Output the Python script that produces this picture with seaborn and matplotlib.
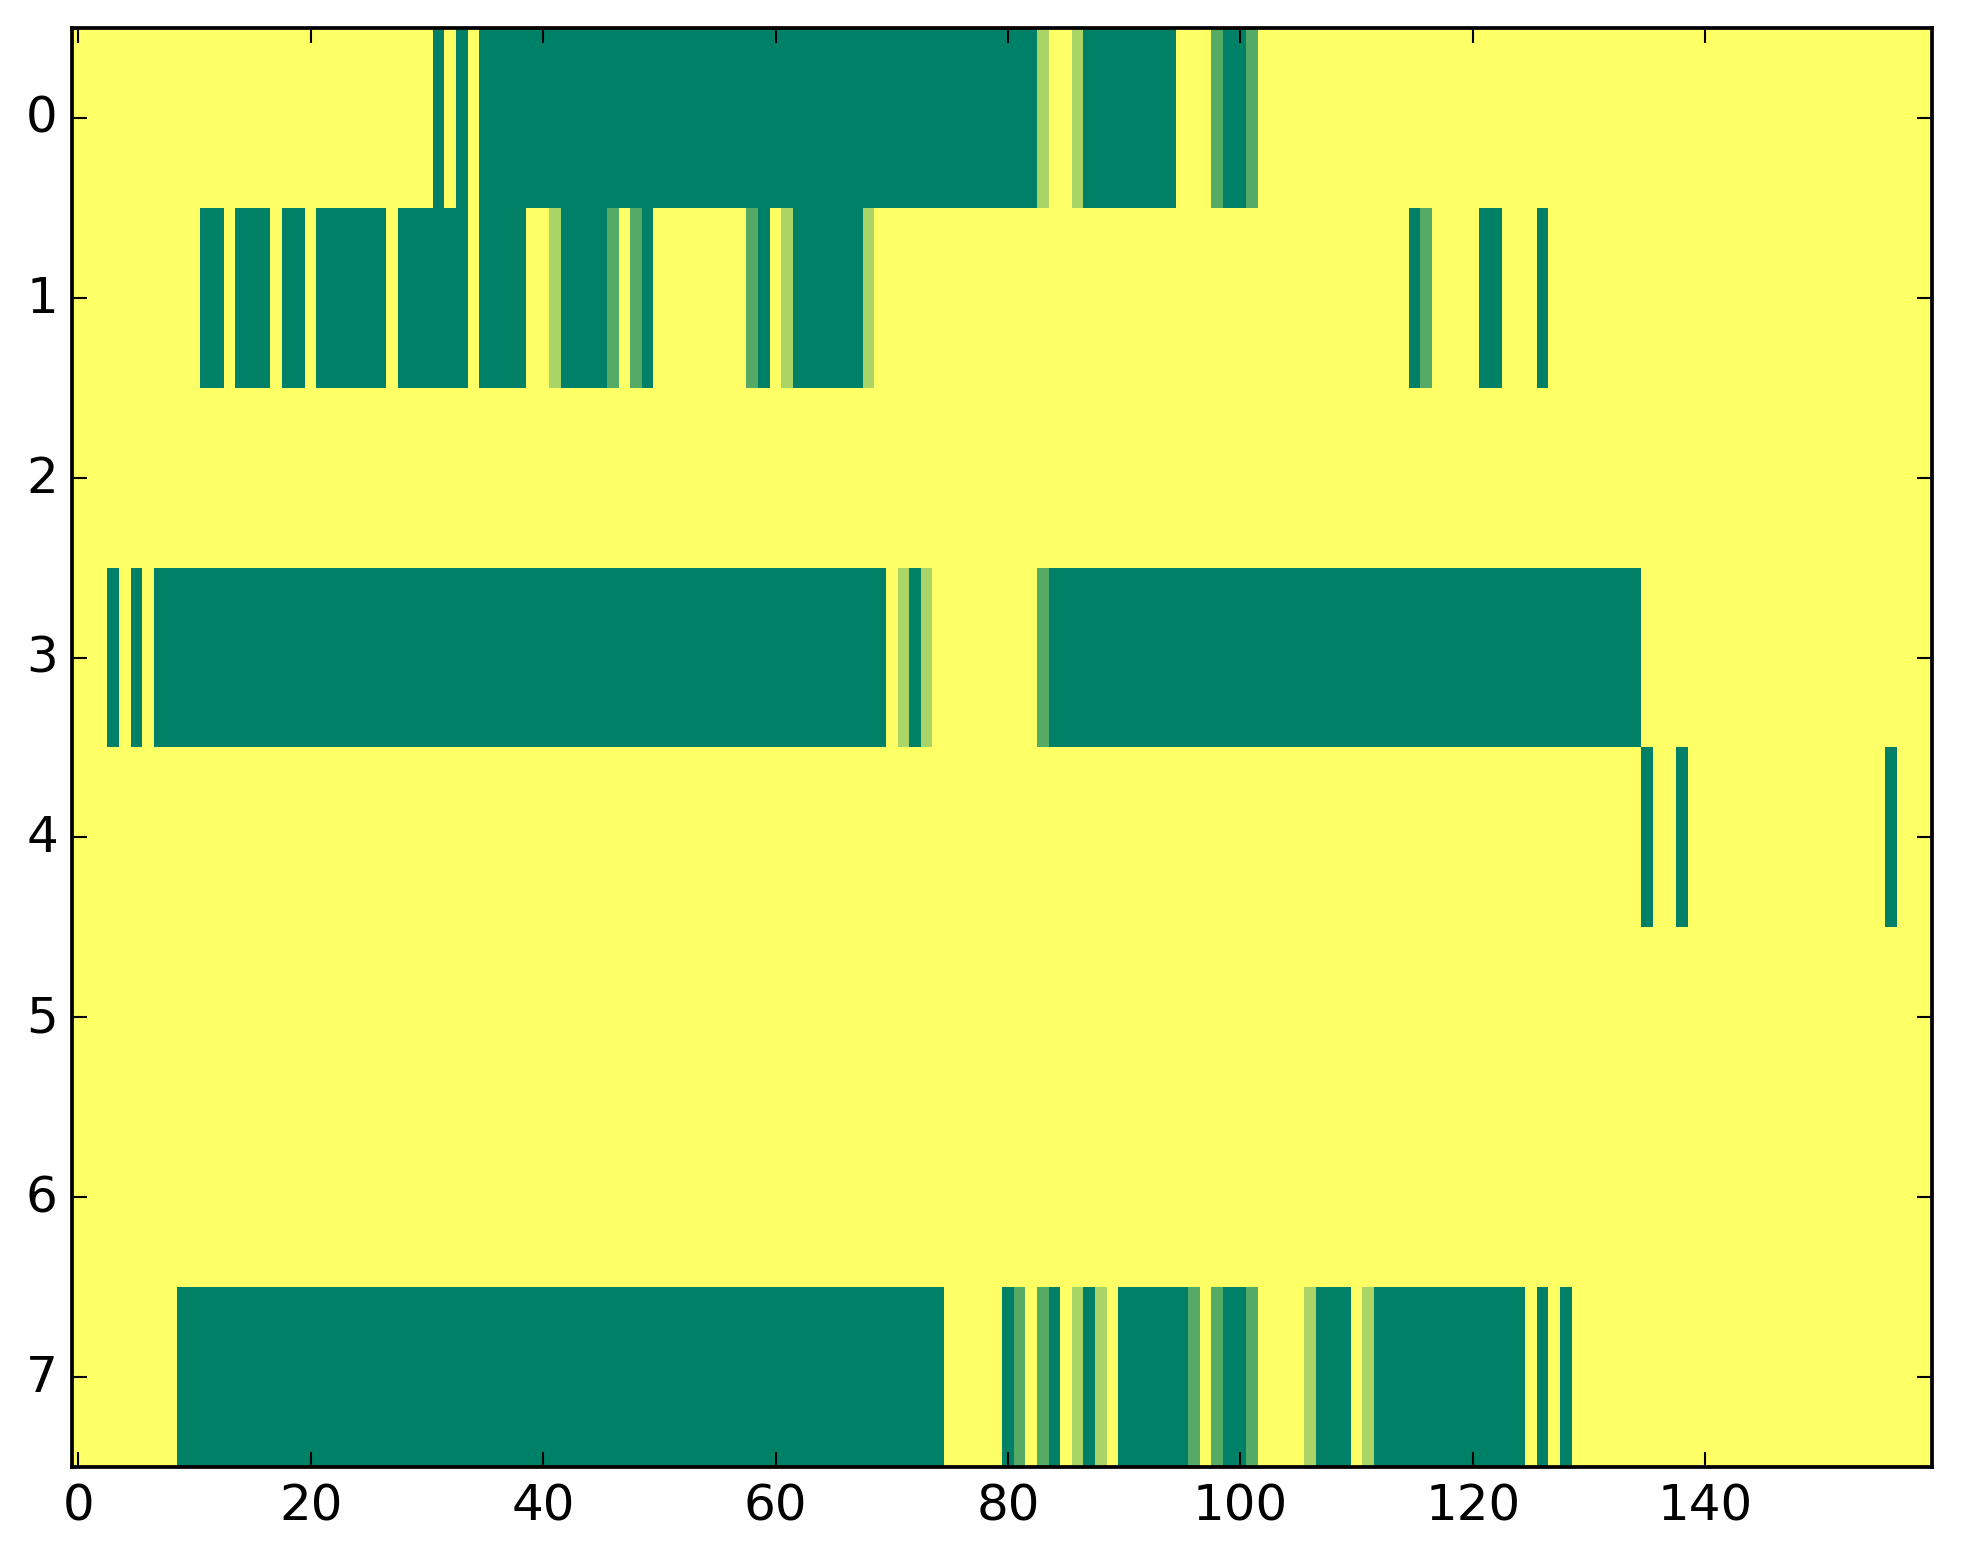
import numpy as np
import pandas as pd
import matplotlib
matplotlib.use("Agg")
import matplotlib.pyplot as plt
import seaborn as sns

# each row is a list of (value, run length), 160 columns per row
# 1 = yellow, 0 = dark green, 1/3 = mid green, 2/3 = light green
M = 1 / 3
L = 2 / 3

row0 = [(1, 31), (0, 1), (1, 1), (0, 1), (1, 1), (0, 48), (L, 1), (1, 2), (L, 1),
        (0, 8), (1, 3), (M, 1), (0, 2), (M, 1), (1, 58)]
row1 = [(1, 11), (0, 2), (1, 1), (0, 3), (1, 1), (0, 2), (1, 1), (0, 6), (1, 1),
        (0, 6), (1, 1), (0, 4), (1, 2), (L, 1), (0, 4), (M, 1), (1, 1), (M, 1),
        (0, 1), (1, 8), (M, 1), (0, 1), (1, 1), (L, 1), (0, 6), (L, 1), (1, 46),
        (0, 1), (M, 1), (1, 4), (0, 2), (1, 3), (0, 1), (1, 33)]
row2 = [(1, 160)]
row3 = [(1, 3), (0, 1), (1, 1), (0, 1), (1, 1), (0, 63), (1, 1), (L, 1), (0, 1),
        (L, 1), (1, 9), (M, 1), (0, 51), (1, 25)]
row4 = [(1, 135), (0, 1), (1, 2), (0, 1), (1, 17), (0, 1), (1, 3)]
row5 = [(1, 160)]
row6 = [(1, 160)]
row7 = [(1, 9), (0, 66), (1, 5), (0, 1), (M, 1), (1, 1), (M, 1), (0, 1), (1, 1),
        (L, 1), (0, 1), (L, 1), (1, 1), (0, 6), (M, 1), (1, 1), (M, 1), (0, 2),
        (M, 1), (1, 4), (L, 1), (0, 3), (1, 1), (L, 1), (0, 13), (1, 1), (0, 1),
        (1, 1), (0, 1), (1, 31)]

rows = [row0, row1, row2, row3, row4, row5, row6, row7]
x_ticks = [0, 20, 40, 60, 80, 100, 120, 140]
y_ticks = [0, 1, 2, 3, 4, 5, 6, 7]


def expand(runs):
    vals, counts = zip(*runs)
    return np.repeat(vals, counts)


data = np.vstack([expand(r) for r in rows])
df = pd.DataFrame(data)

plt.rcParams["font.family"] = ["DejaVu Sans"]
plt.rcParams["font.size"] = 12

fig = plt.figure(figsize=(1963 / 300, 1564 / 300), dpi=300)
ax = fig.add_axes([0.0369, 0.0614, 0.9472, 0.9201])

sns.heatmap(df, cmap="summer", vmin=0, vmax=1, cbar=False, ax=ax,
            antialiased=False)

ax.set_xticks(np.array(x_ticks) + 0.5)
ax.set_xticklabels([str(t) for t in x_ticks], rotation=0)
ax.set_yticks(np.array(y_ticks) + 0.5)
ax.set_yticklabels([str(t) for t in y_ticks], rotation=0, va="center")

for side in ["top", "bottom", "left", "right"]:
    ax.spines[side].set_visible(True)
    ax.spines[side].set_color("black")
    ax.spines[side].set_linewidth(0.9)

ax.tick_params(direction="in", top=True, right=True, length=3.5, width=0.5,
               labelsize=12, color="black", pad=3.5)
ax.set_xlabel("")
ax.set_ylabel("")

fig.savefig("out.png", dpi=300, facecolor="white")
